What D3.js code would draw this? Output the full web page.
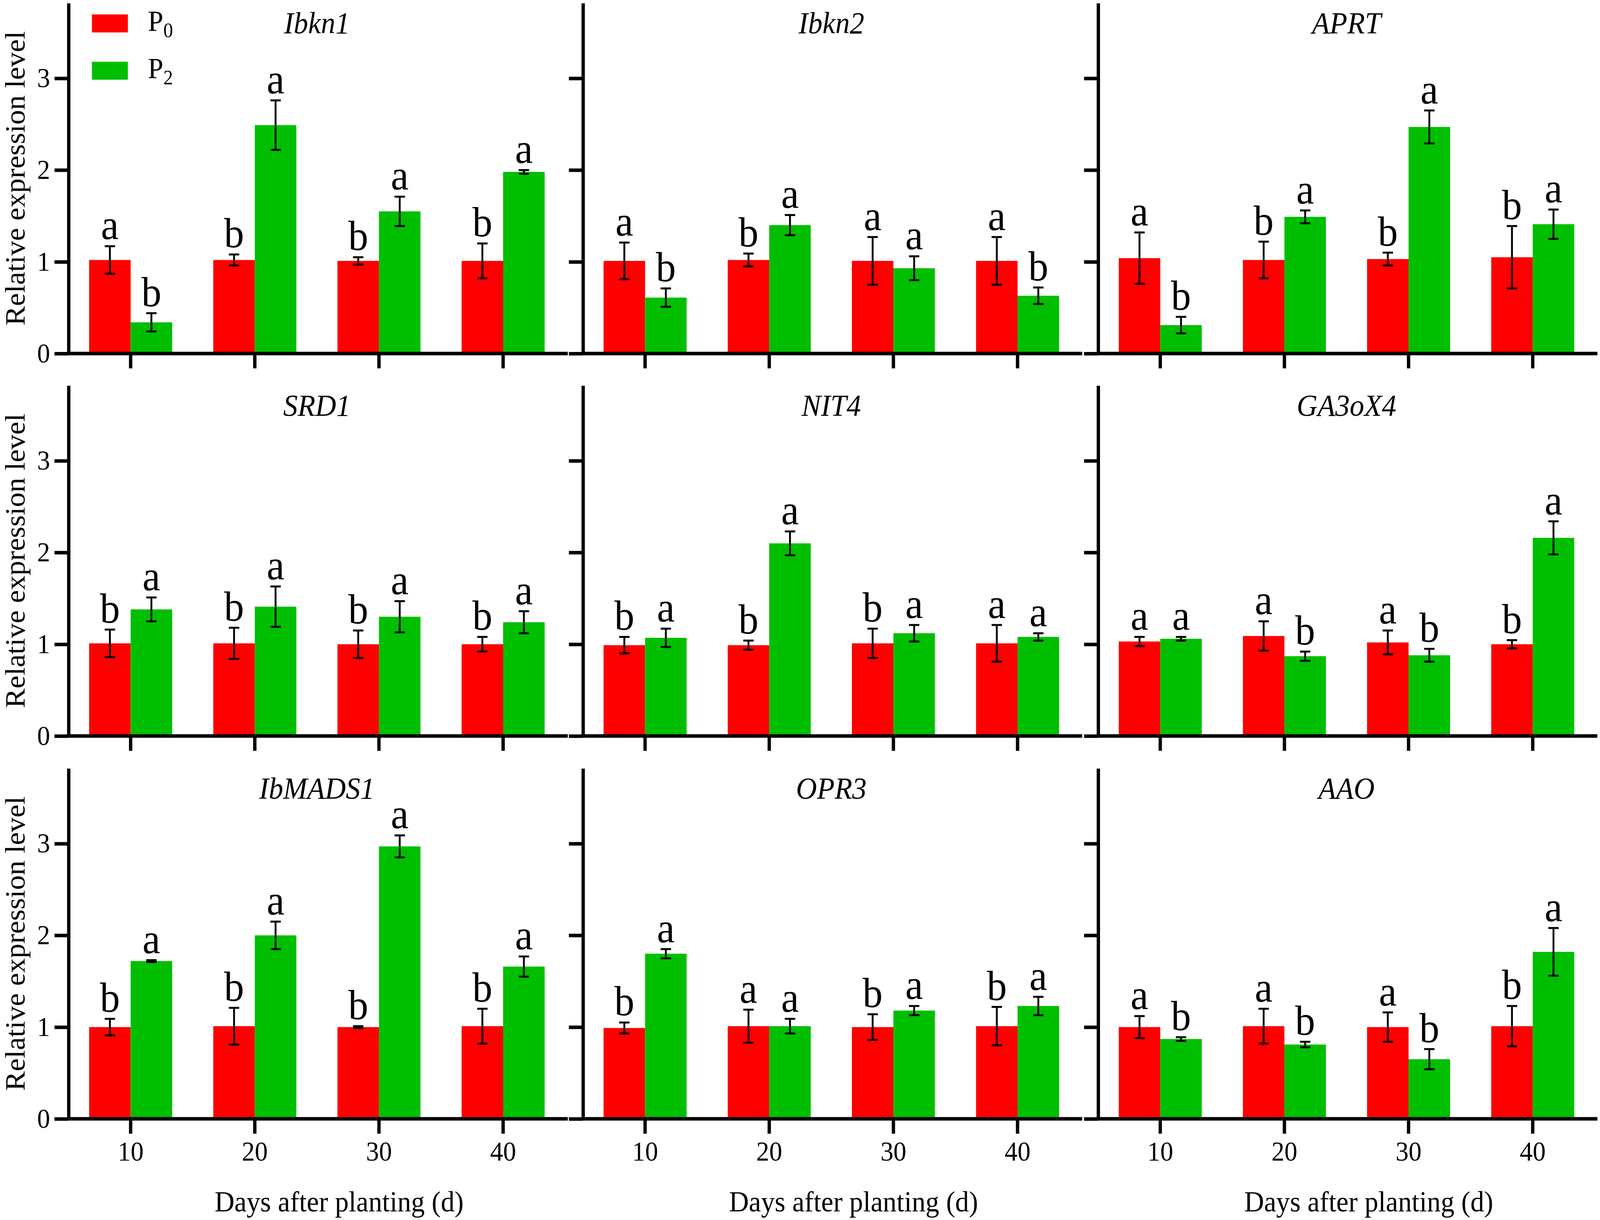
<!DOCTYPE html>
<html>
<head>
<meta charset="utf-8">
<script src="https://cdn.jsdelivr.net/npm/d3@7"></script>
<style>
  html, body { margin: 0; padding: 0; background: #fff; overflow: hidden; }
  svg { display: block; }
  text { font-family: "Liberation Serif", "Times New Roman", serif; fill: #000; }
</style>
</head>
<body>
<div id="chart"></div>
<script>
// Figure size
const width = 4317;
const height = 3123;

// ---- data ----
const genes = ["Ibkn1", "Ibkn2", "APRT", "SRD1", "NIT4", "GA3oX4", "IbMADS1", "OPR3", "AAO"];
const days = ["10", "20", "30", "40"];
const series = ["P0", "P2"];
const yTicks = [0, 1, 2, 3];

const p0Mean = [
  [1.02, 1.02, 1.01, 1.01],
  [1.01, 1.02, 1.01, 1.01],
  [1.04, 1.02, 1.03, 1.05],
  [1.01, 1.01, 1.00, 1.00],
  [0.99, 0.99, 1.01, 1.01],
  [1.03, 1.09, 1.02, 1.00],
  [1.00, 1.01, 1.00, 1.01],
  [0.99, 1.01, 1.00, 1.01],
  [1.00, 1.01, 1.00, 1.01]
];
const p0Err = [
  [0.15, 0.06, 0.04, 0.19],
  [0.20, 0.07, 0.26, 0.26],
  [0.28, 0.20, 0.07, 0.34],
  [0.15, 0.17, 0.15, 0.08],
  [0.09, 0.05, 0.16, 0.20],
  [0.05, 0.16, 0.13, 0.045],
  [0.09, 0.20, 0.01, 0.19],
  [0.06, 0.18, 0.14, 0.21],
  [0.12, 0.19, 0.16, 0.22]
];
const p2Mean = [
  [0.34, 2.49, 1.55, 1.98],
  [0.61, 1.40, 0.93, 0.63],
  [0.31, 1.49, 2.47, 1.41],
  [1.38, 1.41, 1.30, 1.24],
  [1.07, 2.10, 1.12, 1.08],
  [1.06, 0.87, 0.88, 2.16],
  [1.72, 2.00, 2.97, 1.66],
  [1.80, 1.01, 1.18, 1.23],
  [0.87, 0.81, 0.65, 1.82]
];
const p2Err = [
  [0.10, 0.27, 0.16, 0.02],
  [0.10, 0.11, 0.13, 0.09],
  [0.09, 0.07, 0.18, 0.16],
  [0.13, 0.22, 0.17, 0.12],
  [0.10, 0.13, 0.09, 0.04],
  [0.02, 0.05, 0.07, 0.18],
  [0.01, 0.15, 0.12, 0.11],
  [0.05, 0.08, 0.05, 0.10],
  [0.02, 0.03, 0.11, 0.26]
];
const p0Letters = [
  ["a", "b", "b", "b"],
  ["a", "b", "a", "a"],
  ["a", "b", "b", "b"],
  ["b", "b", "b", "b"],
  ["b", "b", "b", "a"],
  ["a", "a", "a", "b"],
  ["b", "b", "b", "b"],
  ["b", "a", "b", "b"],
  ["a", "a", "a", "b"]
];
const p2Letters = [
  ["b", "a", "a", "a"],
  ["b", "a", "a", "b"],
  ["b", "a", "a", "a"],
  ["a", "a", "a", "a"],
  ["a", "a", "a", "a"],
  ["a", "b", "b", "a"],
  ["a", "a", "a", "a"],
  ["a", "a", "a", "a"],
  ["b", "b", "b", "a"]
];

// ---- layout ----
const colX = [185, 1573, 2963];      // y axis position of each column
const rowZero = [905, 1884, 2864];   // baseline (0) of each row
const axisLen = 1347;                // x axis line length
const bandLen = 1340;
const plotH = 897;
const yMax = 3.82;
const barW = 112;
const colors = { P0: "#ff0000", P2: "#00bf00" };

// viewBox stretched to the window so the figure always fills it
const svg = d3.select("#chart")
  .append("svg")
  .attr("viewBox", `0 0 ${width} ${height}`)
  .attr("preserveAspectRatio", "none")
  .style("width", "100vw")
  .style("height", "100vh")
  .style("background-color", "white");

genes.forEach((gene, gi) => {
  const col = gi % 3;
  const row = Math.floor(gi / 3);
  const x0 = colX[col];
  const zero = rowZero[row];

  const x = d3.scaleBand()
    .domain(days)
    .range([x0, x0 + bandLen])
    .padding(0);

  const x1 = d3.scaleBand()
    .domain(series)
    .range([x.bandwidth() / 2 - barW, x.bandwidth() / 2 + barW]);

  const y = d3.scaleLinear()
    .domain([0, yMax])
    .range([zero, zero - plotH]);

  const g = svg.append("g");

  // one record per bar
  const rows = days.map((d, i) => [
    { day: d, s: "P0", v: p0Mean[gi][i], e: p0Err[gi][i], l: p0Letters[gi][i] },
    { day: d, s: "P2", v: p2Mean[gi][i], e: p2Err[gi][i], l: p2Letters[gi][i] }
  ]).flat();

  g.selectAll("rect.bar")
    .data(rows)
    .enter().append("rect")
    .attr("class", "bar")
    .attr("x", d => x(d.day) + x1(d.s))
    .attr("width", x1.bandwidth())
    .attr("y", d => y(d.v))
    .attr("height", d => y(0) - y(d.v))
    .attr("fill", d => colors[d.s]);

  // error bars
  const cx = d => x(d.day) + x1(d.s) + x1.bandwidth() / 2;
  const eb = g.selectAll("g.err")
    .data(rows)
    .enter().append("g")
    .attr("class", "err")
    .attr("stroke", "#000")
    .attr("stroke-width", 5);
  eb.append("line")
    .attr("x1", cx).attr("x2", cx)
    .attr("y1", d => y(d.v - d.e)).attr("y2", d => y(d.v + d.e));
  eb.append("line")
    .attr("x1", d => cx(d) - 14).attr("x2", d => cx(d) + 14)
    .attr("y1", d => y(d.v + d.e)).attr("y2", d => y(d.v + d.e));
  eb.append("line")
    .attr("x1", d => cx(d) - 14).attr("x2", d => cx(d) + 14)
    .attr("y1", d => y(d.v - d.e)).attr("y2", d => y(d.v - d.e));

  // significance letters
  g.selectAll("text.sig")
    .data(rows)
    .enter().append("text")
    .attr("class", "sig")
    .attr("x", cx)
    .attr("y", d => y(d.v + d.e) - 18)
    .attr("text-anchor", "middle")
    .style("font-size", "108px")
    .text(d => d.l);

  // y axis (labels only in the first column)
  const yAxis = g.append("g")
    .attr("transform", `translate(${x0},0)`)
    .call(d3.axisLeft(y).tickValues(yTicks)
      .tickFormat(col === 0 ? d3.format("d") : "")
      .tickSize(38).tickSizeOuter(0).tickPadding(12));
  yAxis.selectAll("path, line").attr("stroke", "#000").attr("stroke-width", 9);
  yAxis.selectAll("text").style("font-size", "70px").style("font-family", "Liberation Serif");

  // x axis (labels only in the bottom row)
  const xAxis = g.append("g")
    .attr("transform", `translate(0,${zero})`)
    .call(d3.axisBottom(x)
      .tickFormat(row === 2 ? (d => d) : "")
      .tickSize(38).tickSizeOuter(0).tickPadding(19));
  xAxis.select(".domain").remove();
  xAxis.selectAll("line").attr("stroke", "#000").attr("stroke-width", 9);
  xAxis.selectAll("text").style("font-size", "70px").style("font-family", "Liberation Serif");
  g.append("line")
    .attr("x1", x0).attr("x2", x0 + axisLen)
    .attr("y1", zero).attr("y2", zero)
    .attr("stroke", "#000").attr("stroke-width", 9);

  // gene title
  g.append("text")
    .attr("x", x0 + 670)
    .attr("y", zero - 820)
    .attr("text-anchor", "middle")
    .style("font-size", "78px")
    .style("font-style", "italic")
    .text(gene);

  // y axis title (first column only)
  if (col === 0) {
    g.append("text")
      .attr("transform", `translate(66,${zero - plotH / 2}) rotate(-90)`)
      .attr("text-anchor", "middle")
      .style("font-size", "75px")
      .text("Relative expression level");
  }

  // x axis title (bottom row only)
  if (row === 2) {
    g.append("text")
      .attr("x", x0 + 730)
      .attr("y", 3101)
      .attr("text-anchor", "middle")
      .style("font-size", "74px")
      .text("Days after planting (d)");
  }

  // legend in first panel
  if (gi === 0) {
    const leg = g.selectAll("g.leg")
      .data(series)
      .enter().append("g")
      .attr("class", "leg")
      .attr("transform", (d, i) => `translate(248,${37 + i * 121})`);
    leg.append("rect")
      .attr("width", 97).attr("height", 46)
      .attr("fill", d => colors[d]);
    const lt = leg.append("text")
      .attr("x", 151).attr("y", 42)
      .style("font-size", "75px");
    lt.append("tspan").text("P");
    lt.append("tspan")
      .attr("dy", 16)
      .style("font-size", "52px")
      .text(d => d.slice(1));
  }
});
</script>
</body>
</html>
